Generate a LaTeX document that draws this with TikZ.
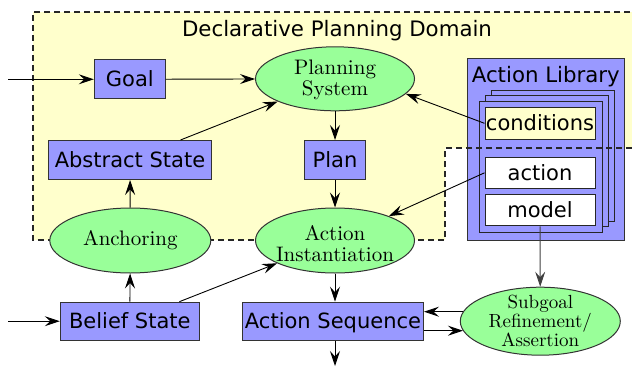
\documentclass[tikz,border=0pt]{standalone}
\usepackage{fontspec}
\setsansfont{DejaVu Sans}
\newfontfamily\lmten{lmroman10-regular}[Extension=.otf]
\usetikzlibrary{shapes.geometric,arrows.meta}
\definecolor{boxblue}{RGB}{153,153,255}
\definecolor{procgreen}{RGB}{153,255,153}
\definecolor{domyellow}{RGB}{255,255,204}
\definecolor{edgegray}{RGB}{51,51,51}
\tikzset{
  box/.style={draw=edgegray, line width=1pt, fill=boxblue, inner sep=0pt,
    font=\sffamily\fontsize{21}{21}\selectfont, text height=15.3pt, text depth=0pt},
  slot/.style={box, draw=black!85, minimum width=110pt},
  card/.style={draw=black!85, line width=1pt, fill=boxblue},
  proc/.style={ellipse, draw=edgegray, line width=1pt, fill=procgreen, inner sep=0pt},
  proctext/.style={font=\lmten\fontsize{21}{21}\selectfont, align=center, inner sep=0pt},
  subtext/.style={font=\lmten\fontsize{19}{19}\selectfont, align=center, inner sep=0pt},
  arr/.style={-{Stealth[length=15pt,width=10pt,inset=5.5pt]}, line width=0.9pt},
  domborder/.style={dash pattern=on 6pt off 4pt, line width=1.2pt, draw=black!85},
  titletext/.style={font=\sffamily\fontsize{21.3}{21.3}\selectfont, inner sep=0pt, anchor=base}
}
\begin{document}
\begin{tikzpicture}[x=1pt,y=-1pt]
\useasboundingbox (0,0) rectangle (632,367);
\clip (0,0) rectangle (632,367);
% domain background
\fill[domyellow] (33,12) -- (640,12) -- (640,148) -- (445,148) -- (445,240) -- (33,240) -- cycle;
\node[titletext] (dtitle) at (337,36) {Declarative Planning Domain};
% action library
\node[draw=edgegray, line width=1pt, fill=boxblue, minimum width=157pt, minimum height=182pt, inner sep=0pt] (lib) at (545.8,149) {};
\node[titletext] (libtitle) at (545.8,82.7) {Action Library};
\draw[card] (491,90) rectangle (614,221);
\draw[card] (485,95.5) rectangle (608,226.5);
\draw[card] (479,101) rectangle (602,232);
\node[slot, fill=domyellow, minimum height=32pt] (cond) at (540,123.3) {conditions};
\node[slot, fill=white, minimum height=31pt] (act) at (540,172.8) {action};
\node[slot, fill=white, minimum height=31.7pt] (model) at (540,210) {model};
% domain border
\draw[domborder] (640,12) -- (33,12) -- (33,240) -- (445,240) -- (445,148) -- (640,148);
% boxes
\node[box, minimum width=71pt, minimum height=39pt] (goal) at (129.8,79.3) {Goal};
\node[box, minimum width=163pt, minimum height=39pt] (as) at (130,160) {Abstract State};
\node[box, minimum width=61pt, minimum height=39pt] (plan) at (335,160) {Plan};
\node[box, minimum width=139pt, minimum height=38pt] (bs) at (129.8,321.2) {Belief State};
\node[box, minimum width=181pt, minimum height=38pt] (aseq) at (333,321.2) {Action Sequence};
% processes
\node[proc, minimum width=159pt, minimum height=64pt,
  label={[proctext, yshift=-1.25pt]center:{Planning\\System}}] (ps) at (335,78.8) {};
\node[proc, minimum width=161pt, minimum height=65pt,
  label={[proctext]center:{Anchoring}}] (anch) at (130.3,240.5) {};
\node[proc, minimum width=159pt, minimum height=65pt,
  label={[proctext, yshift=-3.5pt]center:{Action\\Instantiation}}] (ai) at (335,240.5) {};
\node[proc, minimum width=160pt, minimum height=68pt,
  label={[subtext]center:{Subgoal\\Refinement/\\Assertion}}] (sg) at (540.3,321.2) {};
% free ends
\coordinate (in1) at (8,79.3);
\coordinate (in2) at (8,321.2);
\coordinate (out) at (335,366);
% connectors
\draw[arr] (in1) -- (goal);
\draw[arr] (goal) -- (ps);
\draw[arr] (as) -- (ps);
\draw[arr] (ps) -- (plan);
\draw[arr] (cond.west) -- (ps.-12);
\draw[arr] (act.west) -- (ai);
\draw[arr] (plan) -- (ai);
\draw[arr] (anch) -- (as);
\draw[arr] (bs) -- (anch);
\draw[arr] (in2) -- (bs);
\draw[arr] (bs) -- (ai);
\draw[arr] (ai.south) -- (ai.south |- aseq.north);
\draw[arr] (aseq.south -| out) -- (out);
\draw[arr, draw=black!75] (model) -- (sg);
\draw[arr] (sg.173) -- (sg.173 -| aseq.east);
\draw[arr] (aseq.east |- sg.187) -- (sg.187);
\end{tikzpicture}
\end{document}
